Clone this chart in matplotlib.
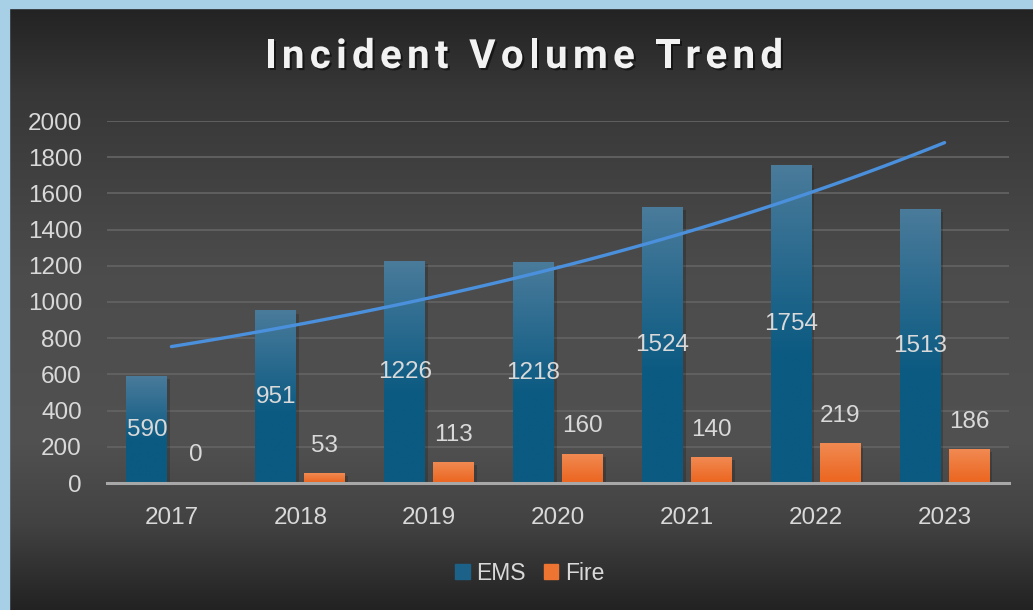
import numpy as np
import matplotlib
matplotlib.use("Agg")
from matplotlib import pyplot as plt
from matplotlib import patheffects as pe
from matplotlib.colors import to_rgb
from matplotlib.patches import Patch

# data
anos = ["2017", "2018", "2019", "2020", "2021", "2022", "2023"]
ems = [590, 951, 1226, 1218, 1524, 1754, 1513]
fire = [0, 53, 113, 160, 140, 219, 186]
yticks = [0, 200, 400, 600, 800, 1000, 1200, 1400, 1600, 1800, 2000]

W, H = 1033, 610
fig = plt.figure(figsize=(W / 100, H / 100), dpi=100)

# fundo em degradê
bg = fig.add_axes([0, 0, 1, 1], zorder=-10)
pos = [0.0, 0.15, 0.45, 0.72, 0.86, 1.0]
lev = [0x21, 0x37, 0x4c, 0x51, 0x42, 0x22]
yy = np.linspace(0, 1, 400)
g = np.interp(yy, pos, lev) / 255.0
img = np.repeat(g[:, None], 2, axis=1)
img = np.dstack([img, img, img])
bg.imshow(img, aspect="auto", extent=[0, 1, 1, 0])
bg.set_xlim(0, 1)
bg.set_ylim(1, 0)
bg.axis("off")

# moldura azul clara (esquerda e topo)
fig.patches.append(plt.Rectangle((0, 0), 9 / W, 1, transform=fig.transFigure,
                                 color="#a7cfe5", zorder=5))
fig.patches.append(plt.Rectangle((0, 1 - 8 / H), 1, 8 / H, transform=fig.transFigure,
                                 color="#a7cfe5", zorder=5))

# eixo principal
ax = fig.add_axes([107 / W, (H - 483) / H, (1009 - 107) / W, (483 - 121) / H])
ax.patch.set_alpha(0)
ax.set_xlim(-0.5, 6.5)
ax.set_ylim(0, 2000)
ax.set_yticks(yticks)
ax.set_xticks(range(len(anos)))
ax.set_xticklabels(anos)
for s in ax.spines.values():
    s.set_visible(False)
ax.tick_params(length=0, labelsize=17.5, labelcolor="#d9d9d9", pad=17)
ax.tick_params(axis="y", pad=18)
for lb in ax.get_xticklabels() + ax.get_yticklabels():
    lb.set_fontfamily("Liberation Sans")
ax.grid(axis="y", color="#626262", lw=1.3, zorder=0)
ax.axhline(0, color="#a8a8a8", lw=2.2, zorder=4, clip_on=False)

x = np.arange(len(anos))
larg = 0.318
desl = 0.19


def barras_gradiente(xs, vals, topo, base, frac):
    c1 = np.array(to_rgb(topo))
    c2 = np.array(to_rgb(base))
    t = np.clip(np.linspace(0, 1, 200) / frac, 0, 1)
    grad = c1[None, :] * (1 - t[:, None]) + c2[None, :] * t[:, None]
    grad = grad[:, None, :]
    bars = ax.bar(xs, vals, width=larg, color=base, zorder=2,
                  path_effects=[pe.SimplePatchShadow(offset=(2, -2), alpha=0.18,
                                                      shadow_rgbFace="black"),
                                pe.Normal()])
    for b, v in zip(bars, vals):
        if v <= 0:
            continue
        x0 = b.get_x()
        ax.imshow(grad, aspect="auto", extent=[x0, x0 + larg, 0, v],
                  zorder=3, interpolation="bilinear")
    return bars


b_ems = barras_gradiente(x - desl, ems, "#4a7b9b", "#0b5a82", 0.6)
b_fire = barras_gradiente(x + desl, fire, "#f18a52", "#ec6823", 0.9)
ax.set_xlim(-0.5, 6.5)
ax.set_ylim(0, 2000)

# rótulos
for xi, v in zip(x - desl, ems):
    ax.text(xi, v / 2, str(v), ha="center", va="center", fontsize=17.5,
            color="#d9d9d9", family="Liberation Sans", zorder=6)
for xi, v in zip(x + desl, fire):
    ax.annotate(str(v), (xi, v), xytext=(0, 20), textcoords="offset points",
                ha="center", va="center", fontsize=17.5, color="#d9d9d9",
                family="Liberation Sans", zorder=6)

# linha de tendência exponencial (ajuste sobre EMS)
k, c = np.polyfit(x, np.log(ems), 1)
xs = np.linspace(0, 6, 100)
ax.plot(xs, np.exp(c + k * xs), color="#4a90dc", lw=2.4, zorder=5,
        solid_capstyle="round")

# legenda
leg = fig.legend(handles=[Patch(color="#1c6288", label="EMS"),
                          Patch(color="#ee7432", label="Fire")],
                 loc="center", bbox_to_anchor=(530 / W, (H - 573) / H),
                 ncol=2, frameon=False, handlelength=0.62, handleheight=0.62,
                 handletextpad=0.3, columnspacing=0.8,
                 prop={"family": "Liberation Sans", "size": 16.5})
for t in leg.get_texts():
    t.set_color("#d9d9d9")

# título com espaçamento entre letras
titulo = "Incident Volume Trend"
fp = dict(fontsize=29, fontweight="bold", family="Roboto", color="#f2f2f2")
r = fig.canvas.get_renderer()


def largura(s):
    t = fig.text(0, 0, s, **fp)
    w = t.get_window_extent(r).width
    t.remove()
    return w


ref = largura("||")
larguras = [largura("|" + ch + "|") - ref for ch in titulo]
esp = (518 - sum(larguras)) / (len(titulo) - 1)
xp = 265.0
sombra = [pe.withSimplePatchShadow(offset=(1.5, -1.5), shadow_rgbFace="black", alpha=0.5)]
for ch, w in zip(titulo, larguras):
    if ch != " ":
        fig.text(xp / W, (H - 57) / H, ch, ha="left", va="center",
                 path_effects=sombra, **fp)
    xp += w + esp

fig.savefig("out.png", dpi=100)
